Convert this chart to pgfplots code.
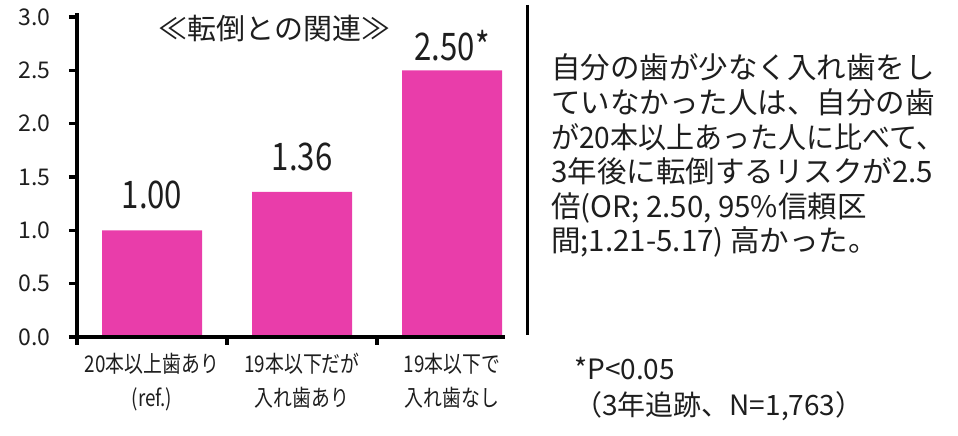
\documentclass[border=0pt]{standalone}
\usepackage{fontspec}
\setmainfont{Noto Sans CJK JP}
\newfontfamily\condfont[FakeStretch=0.82]{Noto Sans CJK JP}
\newfontfamily\narrowjp[FakeStretch=0.95]{Noto Sans CJK JP}
\usepackage{pgfplots}
\pgfplotsset{compat=1.18}
\definecolor{barpink}{RGB}{233,61,170}
\definecolor{txt}{RGB}{30,30,30}
\begin{document}
\begin{tikzpicture}
\path[use as bounding box] (0pt,0pt) rectangle (958pt,436pt);
\begin{axis}[
  at={(77pt,99pt)}, anchor=south west,
  scale only axis, width=428pt, height=320pt,
  xmin=-0.5, xmax=2.353, ymin=0, ymax=3,
  clip=false,
  axis x line*=bottom, axis y line*=left,
  every outer x axis line/.append style={line width=3.5pt, black, -},
  every outer y axis line/.append style={line width=3.5pt, black, -},
  tick align=outside,
  every tick/.append style={line width=3.5pt, black},
  major tick length=8pt,
  xtick={-0.5,0.5,1.5},
  xticklabels={},
  extra x ticks={0,1,2},
  extra x tick labels={{20本以上歯あり\\(ref.)},{19本以下だが\\入れ歯あり},{19本以下で\\入れ歯なし}},
  extra x tick style={major tick length=0pt, xticklabel style={font=\condfont\fontsize{23}{34}\selectfont, align=center, text=txt, yshift=-13pt}},
  ytick={0,0.5,1,1.5,2,2.5,3},
  yticklabel style={/pgf/number format/fixed, /pgf/number format/fixed zerofill, /pgf/number format/precision=1, /pgf/number format/assume math mode=true, font=\fontsize{23}{23}\selectfont, text=txt, xshift=-15pt},
]
\addplot[ybar, bar width=100pt, fill=barpink, draw=none] coordinates {(0,1.00) (1,1.36) (2,2.50)};
% axis lines and tick marks, drawn heavy as in the reference
\draw[line width=3.5pt, black] (axis cs:-0.5,0) ++(0pt,-8pt) -- (axis cs:-0.5,3) -- ++(0pt,4pt);
\draw[line width=4pt, black] (axis cs:-0.5,0) ++(-8pt,0pt) -- (axis cs:2.353,0);
\draw[line width=3.5pt, black] (axis cs:-0.5,0.5) -- ++(-8pt,0pt);
\draw[line width=3.5pt, black] (axis cs:-0.5,1.0) -- ++(-8pt,0pt);
\draw[line width=3.5pt, black] (axis cs:-0.5,1.5) -- ++(-8pt,0pt);
\draw[line width=3.5pt, black] (axis cs:-0.5,2.0) -- ++(-8pt,0pt);
\draw[line width=3.5pt, black] (axis cs:-0.5,2.5) -- ++(-8pt,0pt);
\draw[line width=3.5pt, black] (axis cs:-0.5,3.0) -- ++(-8pt,0pt);
\draw[line width=3pt, black] (axis cs:0.5,0) -- ++(0pt,-8pt);
\draw[line width=3pt, black] (axis cs:1.5,0) -- ++(0pt,-8pt);
\node[anchor=base, font=\condfont\fontsize{38}{38}\selectfont, text=txt, yshift=22pt] at (axis cs:0,1.00) {1.00};
\node[anchor=base, font=\condfont\fontsize{38}{38}\selectfont, text=txt, yshift=21pt] at (axis cs:1,1.36) {1.36};
\node[anchor=base, font=\condfont\fontsize{38}{38}\selectfont, text=txt, yshift=10pt] at (axis cs:2,2.50) {2.50*};
\end{axis}
\node[font=\fontsize{29}{29}\selectfont, text=txt] at (274.5pt,407pt) {≪転倒との関連≫};
\draw[line width=3pt] (527pt,431pt) -- (527pt,101pt);
\begin{scope}[every node/.style={anchor=base west, inner sep=0pt, font=\fontsize{29.5}{29.5}\selectfont, text=txt}]
\node at (551pt,357pt) {自分の歯が少なく入れ歯をし};
\node at (551pt,322.4pt) {ていなかった人は、自分の歯};
\node[font=\narrowjp\fontsize{29.5}{29.5}\selectfont] at (551pt,287.8pt) {が20本以上あった人に比べて、};
\node at (551pt,253.2pt) {3年後に転倒するリスクが2.5};
\node at (551pt,218.6pt) {倍(OR; 2.50, 95\%信頼区};
\node at (551pt,184pt) {間;1.21-5.17) 高かった。};
\node[font=\fontsize{28}{28}\selectfont] at (574pt,56pt) {*P<0.05};
\node[font=\fontsize{28}{28}\selectfont] at (574pt,20pt) {（3年追跡、N=1,763）};
\end{scope}
\end{tikzpicture}
\end{document}
